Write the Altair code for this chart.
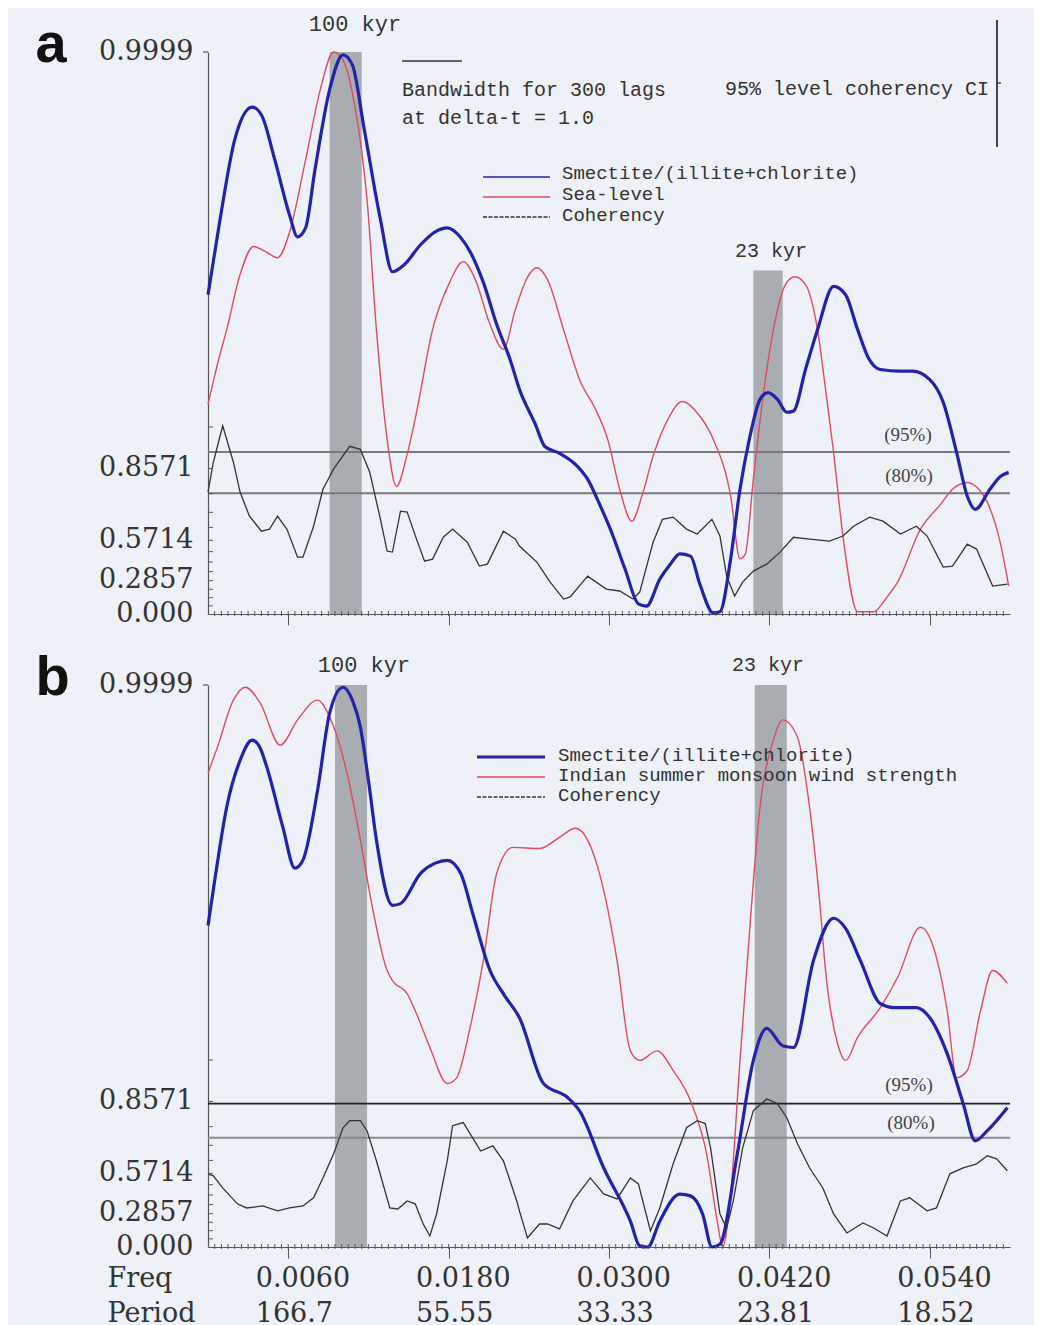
import math
import altair as alt
import pandas as pd

# ---------------- data ----------------
# Panel a: Smectite/(illite+chlorite) (normalised power, 0..1)
A_BLUE_F = [0.0000, 0.0009, 0.0020, 0.0033, 0.0040, 0.0050, 0.0061, 0.0067, 0.0073, 0.0080,
            0.0091, 0.0101, 0.0108, 0.0117, 0.0129, 0.0138, 0.0147, 0.0159, 0.0170, 0.0179,
            0.0189, 0.0196, 0.0206, 0.0216, 0.0226, 0.0233, 0.0245, 0.0252, 0.0263, 0.0275,
            0.0284, 0.0293, 0.0301, 0.0312, 0.0322, 0.0328, 0.0338, 0.0346, 0.0353, 0.0361,
            0.0368, 0.0378, 0.0383, 0.0391, 0.0398, 0.0405, 0.0413, 0.0419, 0.0426, 0.0433,
            0.0438, 0.0447, 0.0456, 0.0468, 0.0477, 0.0486, 0.0494, 0.0503, 0.0518, 0.0527,
            0.0540, 0.0550, 0.0560, 0.0568, 0.0574, 0.0585, 0.0593, 0.0599]
A_BLUE_V = [0.568, 0.702, 0.844, 0.902, 0.888, 0.808, 0.710, 0.671, 0.687, 0.790,
            0.933, 0.995, 0.977, 0.861, 0.702, 0.609, 0.622, 0.657, 0.680, 0.687,
            0.670, 0.645, 0.590, 0.515, 0.453, 0.400, 0.337, 0.298, 0.286, 0.266,
            0.240, 0.195, 0.151, 0.080, 0.018, 0.014, 0.062, 0.089, 0.107, 0.103,
            0.053, 0.002, 0.004, 0.098, 0.222, 0.311, 0.382, 0.394, 0.382, 0.359,
            0.361, 0.435, 0.506, 0.583, 0.568, 0.506, 0.456, 0.435, 0.432, 0.432,
            0.417, 0.377, 0.288, 0.210, 0.186, 0.222, 0.245, 0.252]
# Panel a: Sea-level
A_RED_F = [0.0000, 0.0008, 0.0014, 0.0024, 0.0034, 0.0043, 0.0052, 0.0061, 0.0073, 0.0084,
           0.0094, 0.0101, 0.0109, 0.0119, 0.0126, 0.0134, 0.0141, 0.0149, 0.0156, 0.0168,
           0.0180, 0.0191, 0.0200, 0.0211, 0.0221, 0.0230, 0.0239, 0.0246, 0.0254, 0.0266,
           0.0278, 0.0290, 0.0299, 0.0308, 0.0317, 0.0325, 0.0333, 0.0344, 0.0355, 0.0367,
           0.0378, 0.0391, 0.0398, 0.0402, 0.0408, 0.0415, 0.0423, 0.0432, 0.0439, 0.0447,
           0.0456, 0.0462, 0.0468, 0.0475, 0.0486, 0.0498, 0.0507, 0.0516, 0.0533, 0.0548,
           0.0557, 0.0568, 0.0575, 0.0583, 0.0593, 0.0599]
A_RED_V = [0.373, 0.453, 0.506, 0.604, 0.654, 0.645, 0.634, 0.679, 0.808, 0.933,
           1.000, 0.986, 0.915, 0.737, 0.506, 0.311, 0.227, 0.284, 0.359, 0.506,
           0.586, 0.627, 0.595, 0.515, 0.471, 0.542, 0.599, 0.616, 0.595, 0.506,
           0.417, 0.364, 0.311, 0.222, 0.165, 0.213, 0.281, 0.346, 0.378, 0.355,
           0.311, 0.210, 0.098, 0.107, 0.240, 0.382, 0.506, 0.586, 0.600, 0.586,
           0.506, 0.400, 0.288, 0.139, 0.004, 0.004, 0.027, 0.057, 0.151, 0.195,
           0.222, 0.234, 0.226, 0.199, 0.124, 0.050]
# Panel a: coherency
A_COH_F = [0.0000, 0.0004, 0.0011, 0.0019, 0.0024, 0.0031, 0.0040, 0.0046, 0.0052, 0.0059,
           0.0067, 0.0071, 0.0079, 0.0086, 0.0094, 0.0106, 0.0114, 0.0121, 0.0129, 0.0134,
           0.0138, 0.0144, 0.0149, 0.0156, 0.0162, 0.0168, 0.0176, 0.0183, 0.0194, 0.0203,
           0.0209, 0.0221, 0.0230, 0.0233, 0.0246, 0.0256, 0.0266, 0.0271, 0.0284, 0.0298,
           0.0308, 0.0318, 0.0323, 0.0333, 0.0340, 0.0348, 0.0358, 0.0366, 0.0377, 0.0383,
           0.0388, 0.0394, 0.0400, 0.0408, 0.0418, 0.0428, 0.0438, 0.0450, 0.0465, 0.0475,
           0.0483, 0.0495, 0.0505, 0.0518, 0.0530, 0.0538, 0.0550, 0.0557, 0.0568, 0.0575,
           0.0587, 0.0598]
A_COH_V = [0.791, 0.871, 0.930, 0.871, 0.791, 0.697, 0.623, 0.634, 0.697, 0.634,
           0.463, 0.463, 0.649, 0.800, 0.856, 0.901, 0.896, 0.848, 0.683, 0.504,
           0.497, 0.719, 0.715, 0.578, 0.435, 0.449, 0.589, 0.634, 0.560, 0.399,
           0.413, 0.623, 0.578, 0.536, 0.428, 0.274, 0.131, 0.149, 0.322, 0.216,
           0.200, 0.131, 0.191, 0.560, 0.683, 0.693, 0.634, 0.607, 0.683, 0.596,
           0.322, 0.157, 0.274, 0.361, 0.413, 0.497, 0.589, 0.578, 0.566, 0.596,
           0.649, 0.693, 0.674, 0.607, 0.649, 0.596, 0.391, 0.399, 0.548, 0.517,
           0.241, 0.258]

# Panel b: Smectite/(illite+chlorite)
B_BLUE_F = [0.0000, 0.0005, 0.0014, 0.0024, 0.0033, 0.0039, 0.0044, 0.0056, 0.0065, 0.0071,
            0.0082, 0.0091, 0.0101, 0.0108, 0.0114, 0.0120, 0.0126, 0.0138, 0.0144, 0.0159,
            0.0170, 0.0179, 0.0189, 0.0198, 0.0211, 0.0222, 0.0233, 0.0251, 0.0269, 0.0278,
            0.0296, 0.0316, 0.0323, 0.0329, 0.0338, 0.0353, 0.0361, 0.0370, 0.0377, 0.0383,
            0.0396, 0.0408, 0.0418, 0.0430, 0.0438, 0.0453, 0.0468, 0.0477, 0.0488, 0.0503,
            0.0513, 0.0530, 0.0540, 0.0553, 0.0565, 0.0574, 0.0583, 0.0598]
B_BLUE_V = [0.572, 0.652, 0.783, 0.866, 0.902, 0.888, 0.854, 0.747, 0.674, 0.688,
            0.813, 0.950, 0.996, 0.973, 0.925, 0.831, 0.724, 0.608, 0.611, 0.665,
            0.683, 0.688, 0.665, 0.594, 0.492, 0.447, 0.408, 0.291, 0.266, 0.242,
            0.141, 0.046, 0.002, 0.000, 0.046, 0.094, 0.091, 0.059, 0.000, 0.005,
            0.166, 0.332, 0.389, 0.358, 0.355, 0.510, 0.585, 0.567, 0.510, 0.433,
            0.426, 0.426, 0.408, 0.344, 0.255, 0.189, 0.207, 0.248]
# Panel b: Indian summer monsoon wind strength
B_RED_F = [0.0000, 0.0007, 0.0019, 0.0028, 0.0039, 0.0054, 0.0067, 0.0082, 0.0091, 0.0104,
           0.0114, 0.0123, 0.0134, 0.0138, 0.0149, 0.0156, 0.0166, 0.0179, 0.0186, 0.0196,
           0.0206, 0.0216, 0.0228, 0.0248, 0.0263, 0.0275, 0.0284, 0.0296, 0.0306, 0.0316,
           0.0323, 0.0336, 0.0348, 0.0361, 0.0373, 0.0381, 0.0385, 0.0391, 0.0398, 0.0403,
           0.0413, 0.0423, 0.0430, 0.0441, 0.0450, 0.0458, 0.0462, 0.0471, 0.0477, 0.0486,
           0.0503, 0.0516, 0.0533, 0.0545, 0.0553, 0.0560, 0.0568, 0.0578, 0.0587, 0.0598]
B_RED_V = [0.843, 0.889, 0.973, 0.996, 0.968, 0.893, 0.938, 0.973, 0.943, 0.843,
           0.724, 0.604, 0.492, 0.474, 0.451, 0.415, 0.355, 0.291, 0.301, 0.390,
           0.510, 0.665, 0.711, 0.709, 0.729, 0.745, 0.724, 0.635, 0.510, 0.349,
           0.332, 0.349, 0.314, 0.260, 0.166, 0.046, 0.000, 0.094, 0.332, 0.492,
           0.783, 0.902, 0.938, 0.907, 0.783, 0.604, 0.492, 0.362, 0.332, 0.373,
           0.426, 0.480, 0.569, 0.515, 0.421, 0.301, 0.314, 0.421, 0.492, 0.469]
# Panel b: coherency
B_COH_F = [0.0000, 0.0004, 0.0011, 0.0022, 0.0029, 0.0041, 0.0052, 0.0061, 0.0071, 0.0079,
           0.0086, 0.0094, 0.0101, 0.0106, 0.0114, 0.0119, 0.0126, 0.0136, 0.0142, 0.0149,
           0.0155, 0.0161, 0.0166, 0.0171, 0.0179, 0.0183, 0.0191, 0.0204, 0.0213, 0.0221,
           0.0231, 0.0233, 0.0239, 0.0248, 0.0254, 0.0263, 0.0273, 0.0286, 0.0296, 0.0306,
           0.0316, 0.0322, 0.0331, 0.0338, 0.0348, 0.0358, 0.0366, 0.0372, 0.0376, 0.0383,
           0.0388, 0.0393, 0.0400, 0.0408, 0.0418, 0.0426, 0.0433, 0.0441, 0.0450, 0.0460,
           0.0468, 0.0478, 0.0490, 0.0498, 0.0508, 0.0518, 0.0525, 0.0538, 0.0545, 0.0555,
           0.0565, 0.0575, 0.0583, 0.0590, 0.0598]
B_COH_V = [0.568, 0.556, 0.478, 0.363, 0.331, 0.347, 0.308, 0.331, 0.347, 0.408,
           0.543, 0.676, 0.782, 0.805, 0.805, 0.771, 0.641, 0.331, 0.323, 0.385,
           0.363, 0.200, 0.097, 0.283, 0.641, 0.789, 0.799, 0.689, 0.712, 0.641,
           0.385, 0.308, 0.079, 0.200, 0.200, 0.158, 0.385, 0.543, 0.436, 0.400,
           0.543, 0.505, 0.140, 0.331, 0.625, 0.782, 0.805, 0.796, 0.703, 0.283,
           0.166, 0.385, 0.703, 0.834, 0.863, 0.852, 0.814, 0.721, 0.603, 0.478,
           0.283, 0.123, 0.209, 0.166, 0.097, 0.385, 0.408, 0.308, 0.331, 0.568,
           0.603, 0.625, 0.666, 0.651, 0.586]

# Shaded orbital bands: low freq, high freq, top (fraction of spectrum scale)
A_BAND_LO = [0.0091, 0.0408]
A_BAND_HI = [0.0115, 0.0430]
A_BAND_TOP = [1.0, 0.611]
B_BAND_LO = [0.0095, 0.0409]
B_BAND_HI = [0.0119, 0.0433]
B_BAND_TOP = [1.0, 1.0]
BAND_NAMES = ["100 kyr", "23 kyr"]

# Coherency significance levels (95%, 80%)
A_THR = [0.891, 0.787]
B_THR = [0.852, 0.745]

# Axis labels
FREQ_TICKS = [0.006, 0.018, 0.030, 0.042, 0.054]
FREQ_LABELS = ["0.0060", "0.0180", "0.0300", "0.0420", "0.0540"]
PERIOD_LABELS = ["166.7", "55.55", "33.33", "23.81", "18.52"]
COH_TICKS = [k / 14 for k in range(14)] + [0.9999]
COH_LABELS = ["0.000", "", "", "", "0.2857", "", "", "", "0.5714", "", "", "", "0.8571", "", "0.9999"]

A_NAMES = ["Smectite/(illite+chlorite)", "Sea-level", "Coherency"]
B_NAMES = ["Smectite/(illite+chlorite)", "Indian summer monsoon wind strength", "Coherency"]

# ---------------- styling ----------------
def atanh(c):
    return 0.5 * math.log((1 + c) / (1 - c))

D = atanh(0.9999)
W, H = 802, 562
SERIF = "DejaVu Serif"
MONO = "Liberation Mono"
BLUE = "#2222aa"
RED = "#e24a64"
COHC = "#333333"
BAND = "#a9acb0"
BG = "#eef1f7"
AX = "#555555"
ATANH_EXPR = "0.5*log((1+datum.c)/(1-datum.c))"

XSCALE = alt.Scale(domain=[0, 0.06], nice=False, zero=False)
YSCALE = alt.Scale(domain=[0, D], nice=False, zero=False)

y_pos = [atanh(c) for c in COH_TICKS[:-1]] + [D]
yexpr = ""
for p, t in zip(y_pos, COH_LABELS):
    yexpr += f"abs(datum.value-{p:.6f})<0.0001 ? '{t}' : "
yexpr += "''"
xexpr = ""
for v, a, b in zip(FREQ_TICKS, FREQ_LABELS, PERIOD_LABELS):
    xexpr += f"abs(datum.value-{v})<0.000001 ? ['{a}','{b}'] : "
xexpr += "''"


def txt(s, px, py, size=19, font=MONO, align="left", color="#333333"):
    return alt.Chart(pd.DataFrame({"t": [s]})).mark_text(
        align=align, baseline="middle", font=font, fontSize=size, color=color
    ).encode(x=alt.value(px), y=alt.value(py), text="t:N")


def seg(x1, x2, y1, y2, color, width, dash=None):
    kw = dict(color=color, strokeWidth=width)
    if dash:
        kw["strokeDash"] = dash
    return alt.Chart(pd.DataFrame({"k": [0]})).mark_rule(**kw).encode(
        x=alt.value(x1), x2=alt.value(x2), y=alt.value(y1), y2=alt.value(y2))


def make_panel(letter, bf, bv, rf, rv, cf, cv, blo, bhi, btop, thr, names, bottom):
    if bottom:
        xaxis = alt.Axis(values=FREQ_TICKS, labelExpr=xexpr, labelFont=SERIF, labelFontSize=27,
                         labelColor="#333333", labelAlign="left", labelBaseline="top",
                         labelOffset=-33, labelPadding=7, labelLineHeight=35, labelOverlap=False,
                         tickSize=11, tickColor=AX, domainColor=AX, domainWidth=1.2, grid=False,
                         title=["Freq", "Period"], titleX=-101, titleY=18, titleAlign="left",
                         titleBaseline="top", titleFont=SERIF, titleFontSize=27,
                         titleFontWeight="normal", titleColor="#333333", titleLineHeight=35)
    else:
        xaxis = alt.Axis(values=FREQ_TICKS, labels=False, tickSize=11, tickColor=AX,
                         domainColor=AX, domainWidth=1.2, grid=False, title=None)
    yaxis = alt.Axis(values=y_pos, labelExpr=yexpr, ticks=False, labelPadding=15,
                     labelFont=SERIF, labelFontSize=27, labelColor="#333333", labelOffset=-1,
                     labelOverlap=False, domainColor=AX, domainWidth=1.2, grid=False,
                     title=letter, titleAngle=0, titleX=-173, titleY=9, titleAlign="left",
                     titleBaseline="alphabetic", titleFont="Liberation Sans", titleFontSize=56,
                     titleFontWeight="bold", titleColor="#111111")
    X = lambda f: alt.X(f, scale=XSCALE, axis=xaxis)
    Y = lambda f: alt.Y(f, scale=YSCALE, axis=yaxis)

    bands = alt.Chart(pd.DataFrame({"lo": blo, "hi": bhi, "top": btop})).transform_calculate(
        yt=f"datum.top*{D}", yb="0").mark_rect(color=BAND).encode(
        x=X("lo:Q"), x2="hi:Q", y=Y("yt:Q"), y2="yb:Q")

    thr_layers = []
    styles = [("#7a7a7a", 2.0), ("#7a7a7a", 2.0)] if letter == "a" else [("#222222", 1.6), ("#8a8a8a", 2.0)]
    for c, (col, w) in zip(thr, styles):
        thr_layers.append(alt.Chart(pd.DataFrame({"c": [c]})).transform_calculate(
            yt=ATANH_EXPR).mark_rule(color=col, strokeWidth=w).encode(y=Y("yt:Q")))

    red = alt.Chart(pd.DataFrame({"f": rf, "v": rv})).transform_calculate(
        yt=f"datum.v*{D}").mark_line(color=RED, strokeWidth=1.4, interpolate="monotone").encode(
        x=X("f:Q"), y=Y("yt:Q"))
    blue = alt.Chart(pd.DataFrame({"f": bf, "v": bv})).transform_calculate(
        yt=f"datum.v*{D}").mark_line(color=BLUE, strokeWidth=3.2, interpolate="monotone").encode(
        x=X("f:Q"), y=Y("yt:Q"))
    coh = alt.Chart(pd.DataFrame({"f": cf, "c": cv})).transform_calculate(
        yt=ATANH_EXPR).mark_line(color=COHC, strokeWidth=1.3).encode(
        x=X("f:Q"), y=Y("yt:Q"))

    minor_x = alt.Chart(pd.DataFrame({"f": [i * 0.0005 for i in range(1, 120)]})).mark_rule(
        color=AX, strokeWidth=1).encode(x=X("f:Q"), y=alt.value(H - 3), y2=alt.value(H + 2))
    minor_y = alt.Chart(pd.DataFrame({"c": COH_TICKS[1:-1]})).transform_calculate(
        yt=ATANH_EXPR).mark_rule(color=AX, strokeWidth=1).encode(
        y=Y("yt:Q"), x=alt.value(0), x2=alt.value(5))
    top_tick = seg(-5, 0, 0, 0, AX, 1.2)

    layers = [bands] + thr_layers + [red, blue, coh, minor_x, minor_y, top_tick]

    if letter == "a":
        layers += [
            txt(BAND_NAMES[0], 147, -28, 22, align="center"),
            txt(BAND_NAMES[1], 563, 199, 20, align="center"),
            seg(194, 254, 9, 9, "#333333", 1.5),
            txt("Bandwidth for 300 lags", 194, 38, 20),
            txt("at delta-t = 1.0", 194, 66, 20),
            txt("95% level coherency CI", 517, 37, 20),
            seg(789, 789, -32, 95, "#444444", 2),
            seg(789, 793, 31, 31, "#444444", 1.5),
            seg(275, 342, 125, 125, BLUE, 1.6),
            seg(275, 342, 145, 145, RED, 1.6),
            seg(275, 342, 165, 165, COHC, 1.3, [4, 1.5]),
            txt(names[0], 354, 121),
            txt(names[1], 354, 142),
            txt(names[2], 354, 163),
            txt("(95%)", 700, 383, 19, font="Liberation Serif", align="center", color="#444444"),
            txt("(80%)", 701, 424, 19, font="Liberation Serif", align="center", color="#444444"),
        ]
    else:
        layers += [
            txt(BAND_NAMES[0], 156, -20, 22, align="center"),
            txt(BAND_NAMES[1], 560, -20, 20, align="center"),
            seg(269, 337, 72, 72, BLUE, 3),
            seg(269, 337, 92, 92, RED, 1.6),
            seg(269, 337, 112, 112, COHC, 1.4, [4, 1.5]),
            txt(names[0], 350, 70),
            txt(names[1], 350, 90),
            txt(names[2], 350, 110),
            txt("(95%)", 701, 400, 19, font="Liberation Serif", align="center", color="#444444"),
            txt("(80%)", 703, 438, 19, font="Liberation Serif", align="center", color="#444444"),
        ]
    return alt.layer(*layers).properties(width=W, height=H)


panel_a = make_panel("a", A_BLUE_F, A_BLUE_V, A_RED_F, A_RED_V, A_COH_F, A_COH_V,
                     A_BAND_LO, A_BAND_HI, A_BAND_TOP, A_THR, A_NAMES, False)
panel_b = make_panel("b", B_BLUE_F, B_BLUE_V, B_RED_F, B_RED_V, B_COH_F, B_COH_V,
                     B_BAND_LO, B_BAND_HI, B_BAND_TOP, B_THR, B_NAMES, True)

chart = alt.vconcat(panel_a, panel_b, spacing=71, bounds="flush").properties(
    padding={"left": 27, "top": 5, "right": 18, "bottom": 2},
    background=BG,
).configure_view(stroke=None)

chart.save("out.html", embed_options={"renderer": "svg", "actions": False})
